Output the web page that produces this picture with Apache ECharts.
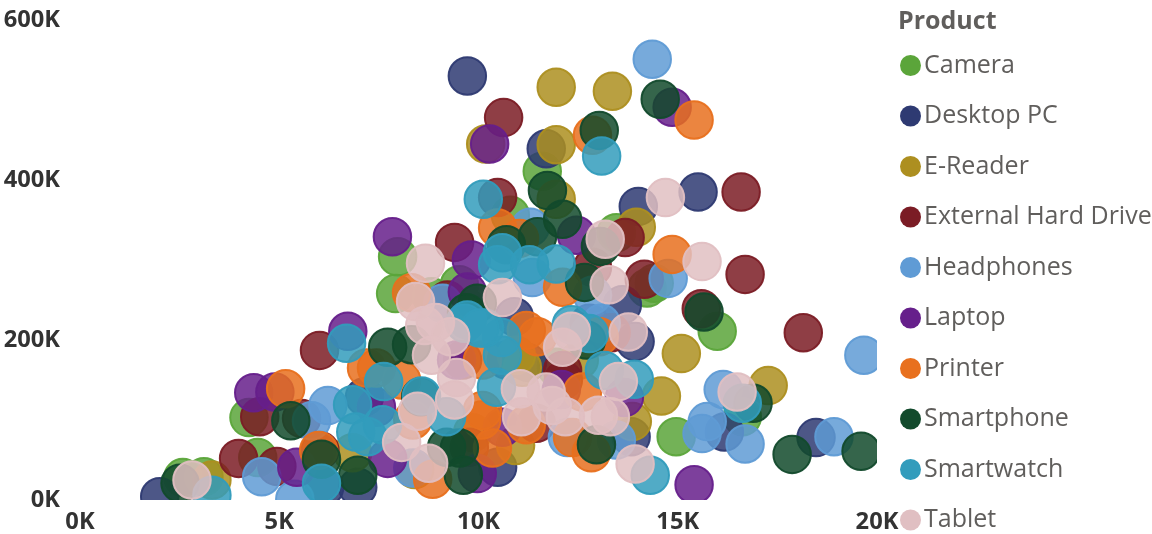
<!DOCTYPE html>
<html><head><meta charset="utf-8">
<script src="https://cdn.jsdelivr.net/npm/echarts@6/dist/echarts.min.js"></script>
<style>html,body{margin:0;background:#fff}#c{width:1152px;height:534px}</style></head>
<body><div id="c"></div>
<script>
// values in thousands: [units, revenue]
const camera=[[11.60,411],[7.97,304],[9.52,269],[7.92,258],[8.82,254],[10.80,356],[13.46,334],[14.41,271],[14.23,265],[15.99,211],[14.96,79],[2.58,28],[3.11,29],[4.46,53],[4.24,103],[11.95,166],[16.62,104],[9.77,238]];
const desktop=[[9.72,530],[11.70,439],[14.01,367],[15.51,385],[13.61,244],[13.93,198],[12.78,221],[10.90,229],[11.23,172],[10.70,175],[2.00,4],[6.14,16],[6.97,16],[7.14,129],[16.17,85],[18.47,78],[13.83,79],[10.48,41]];
const ereader=[[11.95,516],[13.36,511],[10.18,445],[11.95,444],[11.95,376],[13.96,341],[15.09,183],[14.59,130],[17.27,143],[13.86,98],[10.93,68],[10.95,181],[12.53,175],[3.31,25],[6.84,59],[8.40,38],[11.10,166],[9.85,84]];
const harddrive=[[10.63,478],[10.48,378],[9.40,322],[16.59,385],[16.69,282],[13.68,328],[12.86,291],[14.16,276],[15.59,239],[18.15,209],[6.01,187],[3.98,52],[4.94,42],[4.51,104],[5.56,102],[6.02,62],[9.22,250],[9.60,175],[12.13,150],[11.45,96],[12.11,162],[13.33,209],[9.77,66]];
const headphones=[[14.36,551],[11.30,341],[9.10,246],[11.35,278],[12.86,256],[14.76,277],[13.08,221],[19.67,181],[16.14,138],[15.74,98],[15.61,83],[16.69,70],[18.92,79],[12.23,78],[4.56,29],[5.39,1],[5.81,99],[6.22,118],[8.35,40],[13.46,75]];
const laptop=[[7.84,329],[10.28,445],[9.82,300],[9.72,260],[14.86,491],[12.46,331],[4.36,134],[4.89,135],[5.44,41],[6.72,211],[7.44,116],[7.72,52],[12.08,138],[13.66,128],[15.41,19],[9.97,33],[10.60,91],[9.45,175]];
const printer=[[12.86,456],[15.41,475],[10.48,340],[11.03,327],[12.11,266],[14.86,307],[8.32,259],[5.16,139],[5.99,62],[7.19,165],[7.44,165],[8.07,150],[8.35,100],[8.85,26],[10.35,65],[10.08,100],[10.10,112],[11.20,212],[11.48,204],[10.10,175],[12.61,135],[12.36,78],[12.83,59],[11.20,94],[13.03,204]];
const smartphone=[[14.56,501],[13.03,462],[11.73,387],[12.11,351],[11.48,329],[10.70,319],[13.06,317],[12.66,272],[15.66,235],[12.71,200],[9.97,246],[9.70,234],[7.72,191],[8.32,194],[5.29,99],[6.06,51],[6.97,31],[2.51,21],[16.89,121],[17.87,57],[19.60,61],[12.96,69],[9.20,66],[9.52,65],[9.62,31],[8.55,129]];
const smartwatch=[[10.12,376],[13.09,430],[10.60,309],[10.48,294],[11.28,294],[11.95,295],[10.58,203],[10.60,181],[9.72,225],[10.15,215],[6.69,196],[7.62,148],[6.84,119],[6.92,85],[7.22,79],[7.59,94],[8.57,130],[6.06,21],[3.31,6],[14.31,31],[16.62,121],[13.91,151],[13.16,162],[12.33,219],[12.78,208],[9.20,104],[10.45,141],[9.65,221],[10.03,215]];
const tablet=[[14.69,378],[8.67,296],[13.18,326],[13.28,269],[10.60,253],[15.61,298],[8.42,248],[8.65,218],[8.92,222],[9.30,204],[8.82,181],[12.33,211],[12.11,191],[13.76,210],[13.51,148],[13.31,104],[13.01,106],[12.18,104],[11.85,118],[11.70,135],[11.05,139],[11.08,104],[9.45,153],[9.40,125],[8.47,111],[8.07,72],[8.75,46],[2.81,25],[16.49,135],[13.93,45]];
const names=['Camera','Desktop PC','E-Reader','External Hard Drive','Headphones','Laptop','Printer','Smartphone','Smartwatch','Tablet'];
const colors=['#5BA53A','#2E3A72','#AD8F20','#7B1C25','#5F9BD5','#661F8B','#E8701E','#124A2C','#329CBC','#E0BFC2'];
const values=[camera,desktop,ereader,harddrive,headphones,laptop,printer,smartphone,smartwatch,tablet];
const font='"Open Sans"';
const chart=echarts.init(document.getElementById('c'),null,{renderer:'canvas'});
function fade(hex,a){const n=parseInt(hex.slice(1),16);return `rgba(${n>>16},${(n>>8)&255},${n&255},${a})`;}
chart.setOption({
  animation:false,
  title:{text:'Product',left:893,top:4,textStyle:{fontFamily:font,fontSize:25,fontWeight:700,color:'#605E5C'}},
  legend:{orient:'vertical',left:900,top:53,padding:0,height:600,icon:'circle',itemWidth:21,itemHeight:21,itemGap:25.5,
    data:names.map((n,i)=>({name:n,itemStyle:{color:colors[i],borderWidth:0,opacity:1}})),
    textStyle:{fontFamily:font,fontSize:25,lineHeight:21,color:'#605E5C',padding:[0,0,0,-2]},selectedMode:false},
  grid:{left:80,top:20,width:797,height:480,containLabel:false},
  xAxis:{type:'value',z:10,min:0,max:20000,interval:5000,splitLine:{show:false},axisLine:{show:false},axisTick:{show:false},
    axisLabel:{fontFamily:font,fontWeight:700,fontSize:23.7,color:'#333',margin:10,formatter:v=>v/1000+'K',showMaxLabel:true}},
  yAxis:{type:'value',z:10,min:0,max:600000,interval:200000,splitLine:{show:false},axisLine:{show:false},axisTick:{show:false},
    axisLabel:{fontFamily:font,fontWeight:700,fontSize:23.7,color:'#333',margin:20,formatter:v=>v/1000+'K'}},
  graphic:[
    {type:'rect',z:5,shape:{x:0,y:500,width:897,height:34},style:{fill:'#fff'}},
    {type:'rect',z:5,shape:{x:877,y:0,width:20,height:500},style:{fill:'#fff'}}
  ],
  series:names.map((n,i)=>({name:n,type:'scatter',symbol:'circle',symbolSize:37.5,clip:true,
    data:values[i].map(p=>[p[0]*1000,p[1]*1000]),
    itemStyle:{color:fade(colors[i],0.85),borderColor:fade(colors[i],0.95),borderWidth:2,opacity:1}}))
});
</script></body></html>
